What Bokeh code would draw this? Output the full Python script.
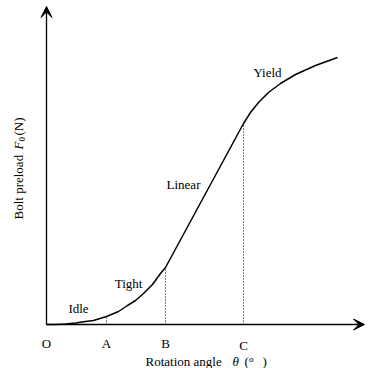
import math
from bokeh.plotting import figure
from bokeh.models import Range1d, Arrow, VeeHead
from bokeh.core.properties import value
from bokeh.embed import file_html
from bokeh.resources import INLINE

# Preload curve (schematic units: rotation angle vs preload)
theta_curve = [0, 9, 19, 29, 39, 47, 60, 72, 81, 89, 97, 106, 114, 119,
               197, 204, 212, 222, 234, 249, 269, 291]
F_curve = [0, 0, 0.5, 1.5, 3, 4, 8, 13, 19, 24, 31, 40, 51, 57,
           201, 212, 222, 232, 241, 250, 259, 267]

# Stage boundaries
stage_marks = ["A", "B", "C"]
theta_marks = [60, 119, 197]
F_marks = [8, 57, 201]

# Stage names
stage_labels = ["Idle", "Tight", "Linear", "Yield"]
label_theta = [32, 82, 137, 221]
label_F = [16, 41, 140, 252]

axis_theta_max = 318
axis_F_max = 318

FONT = value("Liberation Serif")

p = figure(width=375, height=368, x_range=Range1d(-46, 329), y_range=Range1d(-44, 324),
           output_backend="svg", toolbar_location=None, min_border=0,
           x_axis_location=None, y_axis_location=None, outline_line_color=None)
p.grid.grid_line_color = None
p.background_fill_color = "white"

# axes with arrows
p.add_layout(Arrow(x_start=0, y_start=0, x_end=axis_theta_max, y_end=0, line_width=1.3,
                   end=VeeHead(size=11, fill_color="black", line_color="black", line_width=1)))
p.add_layout(Arrow(x_start=0, y_start=0, x_end=0, y_end=axis_F_max, line_width=1.3,
                   end=VeeHead(size=11, fill_color="black", line_color="black", line_width=1)))

# dotted stage lines
p.segment(x0=theta_marks, y0=[0] * len(theta_marks), x1=theta_marks, y1=F_marks,
          line_color="black", line_width=1.1, line_dash="1 2")

# curve
p.line(theta_curve, F_curve, line_color="black", line_width=1.5, line_join="round")

# stage labels
p.text(x=label_theta, y=label_F, text=stage_labels, text_font=FONT, text_font_size="13px",
       text_align="center", text_baseline="middle", text_color="black")

# axis letters
p.text(x=[0] + theta_marks, y=[-19, -19, -19, -21], text=["O"] + stage_marks, text_font=FONT,
       text_font_size="13px", text_align="center", text_baseline="alphabetic", text_color="black")

# x title
p.text(x=[99], y=[-37], text=["Rotation angle"], text_font=FONT, text_font_size="13px",
       text_align="left", text_baseline="alphabetic", text_color="black")
p.text(x=[186], y=[-37], text=["θ"], text_font=FONT, text_font_size="13px",
       text_font_style="italic", text_align="left", text_baseline="alphabetic", text_color="black")
p.text(x=[198], y=[-37], text=["(°"], text_font=FONT, text_font_size="13px",
       text_align="left", text_baseline="alphabetic", text_color="black")
p.text(x=[216], y=[-37], text=[")"], text_font=FONT, text_font_size="13px",
       text_align="left", text_baseline="alphabetic", text_color="black")

# y title
ang = math.pi / 2
p.text(x=[-28], y=[105], text=["Bolt preload"], angle=ang, text_font=FONT, text_font_size="13px",
       text_align="left", text_baseline="middle", text_color="black")
p.text(x=[-28], y=[175], text=["F"], angle=ang, text_font=FONT, text_font_size="13px",
       text_font_style="italic", text_align="left", text_baseline="middle", text_color="black")
p.text(x=[-25], y=[183], text=["0"], angle=ang, text_font=FONT, text_font_size="9px",
       text_align="left", text_baseline="middle", text_color="black")
p.text(x=[-28], y=[189], text=["(N)"], angle=ang, text_font=FONT, text_font_size="13px",
       text_align="left", text_baseline="middle", text_color="black")

open("out.html", "w").write(file_html(p, INLINE))
